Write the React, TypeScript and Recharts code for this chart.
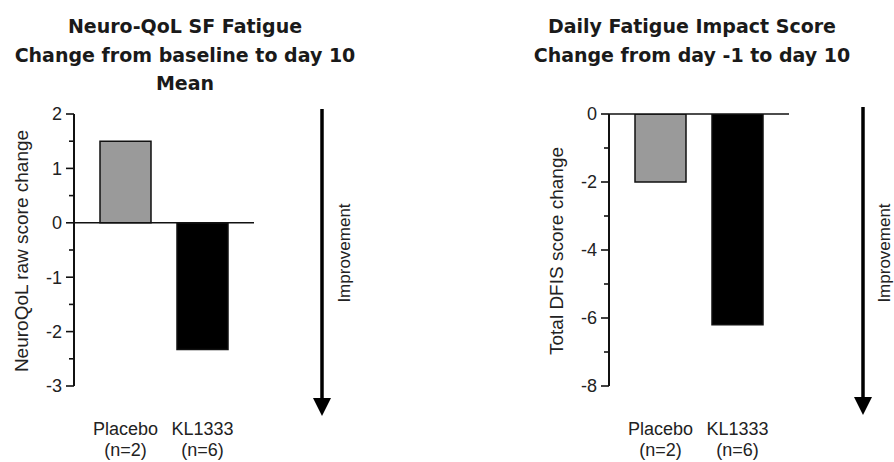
import React from 'react';
import { BarChart, Bar, XAxis, YAxis, Cell, ReferenceLine, Label } from 'recharts';

const categories = ['Placebo', 'KL1333'];
const nLabels = ['(n=2)', '(n=6)'];
const neuroValues = [1.5, -2.33];
const dfisValues = [-2.0, -6.2];
const neuroTicks = [-3, -2.5, -2, -1.5, -1, -0.5, 0, 0.5, 1, 1.5, 2];
const neuroMajor = [-3, -2, -1, 0, 1, 2];
const dfisTicks = [-8, -7, -6, -5, -4, -3, -2, -1, 0];
const dfisMajor = [-8, -6, -4, -2, 0];
const barColors = ['#9a9a9a', '#000000'];
const titles1 = ['Neuro-QoL SF Fatigue', 'Change from baseline to day 10', 'Mean'];
const titles2 = ['Daily Fatigue Impact Score', 'Change from day -1 to day 10'];

const FONT = '"Liberation Sans", Arial, sans-serif';
const AXIS_X = 74;
const CHART_W = 270;
const CHART_H = 462;

const makeYTick = (major: number[]) => (props: any) => {
  const { y, payload } = props;
  const v = payload.value;
  const isMajor = major.some((m) => Math.abs(m - v) < 1e-6);
  return (
    <g>
      <line x1={AXIS_X - (isMajor ? 8 : 5)} x2={AXIS_X} y1={y} y2={y} stroke="#111" strokeWidth={1.6} />
      {isMajor && (
        <text x={AXIS_X - 12} y={y} dy="0.36em" textAnchor="end" fontSize={18} fontFamily={FONT} fill="#222">
          {String(v)}
        </text>
      )}
    </g>
  );
};

const XTick = (props: any) => {
  const { x, index } = props;
  return (
    <g>
      <text x={x} y={435} textAnchor="middle" fontSize={18} fontFamily={FONT} fill="#222">
        {categories[index]}
      </text>
      <text x={x} y={456} textAnchor="middle" fontSize={18} fontFamily={FONT} fill="#222">
        {nLabels[index]}
      </text>
    </g>
  );
};

const yLabel = (text: string) => (props: any) => (
  <text
    x={21}
    y={251}
    transform="rotate(-90, 21, 251)"
    textAnchor="middle"
    dominantBaseline="central"
    fontSize={19}
    fontFamily={FONT}
    fill="#222"
  >
    {text}
  </text>
);

type PanelProps = {
  values: number[];
  ticks: number[];
  major: number[];
  domain: [number, number];
  label: string;
};

const Panel = ({ values, ticks, major, domain, label }: PanelProps) => {
  const data = categories.map((c, i) => ({ name: c, value: values[i] }));
  return (
    <BarChart
      width={CHART_W}
      height={CHART_H}
      data={data}
      margin={{ top: 114, right: 16, bottom: 0, left: 0 }}
      barCategoryGap={0}
    >
      <XAxis
        dataKey="name"
        axisLine={false}
        tickLine={false}
        height={76}
        padding={{ left: 13, right: 13 }}
        tick={<XTick />}
        interval={0}
      />
      <YAxis
        type="number"
        domain={domain}
        ticks={ticks}
        interval={0}
        width={AXIS_X}
        axisLine={{ stroke: '#111', strokeWidth: 2 }}
        tickLine={false}
        tick={makeYTick(major)}
        allowDataOverflow
      >
        <Label content={yLabel(label)} />
      </YAxis>
      <Bar dataKey="value" barSize={51} isAnimationActive={false} stroke="#111" strokeWidth={1.5}>
        {data.map((d, i) => (
          <Cell key={d.name} fill={barColors[i]} />
        ))}
      </Bar>
      <ReferenceLine y={0} stroke="#111" strokeWidth={1.6} ifOverflow="visible" />
    </BarChart>
  );
};

const Arrow = ({ x, y1, y2 }: { x: number; y1: number; y2: number }) => (
  <g>
    <line x1={x} x2={x} y1={y1} y2={y2 - 16} stroke="#000" strokeWidth={3.5} />
    <polygon points={`${x - 9},${y2 - 18} ${x + 9},${y2 - 18} ${x},${y2}`} fill="#000" />
  </g>
);

const Improvement = ({ x, y }: { x: number; y: number }) => (
  <text
    x={x}
    y={y}
    transform={`rotate(-90, ${x}, ${y})`}
    textAnchor="middle"
    dominantBaseline="central"
    fontSize={17}
    fontFamily={FONT}
    fill="#222"
  >
    Improvement
  </text>
);

export default function App() {
  return (
    <div style={{ position: 'absolute', left: 0, top: 0, width: 894, height: 462, background: '#fff', overflow: 'hidden' }}>
      <div style={{ position: 'absolute', left: 0, top: 0 }}>
        <Panel values={neuroValues} ticks={neuroTicks} major={neuroMajor} domain={[-3, 2]} label="NeuroQoL raw score change" />
      </div>
      <div style={{ position: 'absolute', left: 535, top: 0 }}>
        <Panel values={dfisValues} ticks={dfisTicks} major={dfisMajor} domain={[-8, 0]} label="Total DFIS score change" />
      </div>
      <svg width={894} height={462} style={{ position: 'absolute', left: 0, top: 0, pointerEvents: 'none' }}>
        {titles1.map((t, i) => (
          <text key={t} x={185} y={33 + i * 28.5} textAnchor="middle" fontSize={19} fontWeight="bold" fontFamily='"DejaVu Sans", sans-serif' fill="#1a1a1a">
            {t}
          </text>
        ))}
        {titles2.map((t, i) => (
          <text key={t} x={692} y={33 + i * 28.5} textAnchor="middle" fontSize={19} fontWeight="bold" fontFamily='"DejaVu Sans", sans-serif' fill="#1a1a1a">
            {t}
          </text>
        ))}
        <Arrow x={322} y1={109} y2={416} />
        <Arrow x={863} y1={107} y2={415} />
        <Improvement x={344} y={253} />
        <Improvement x={884} y={253} />
      </svg>
    </div>
  );
}
